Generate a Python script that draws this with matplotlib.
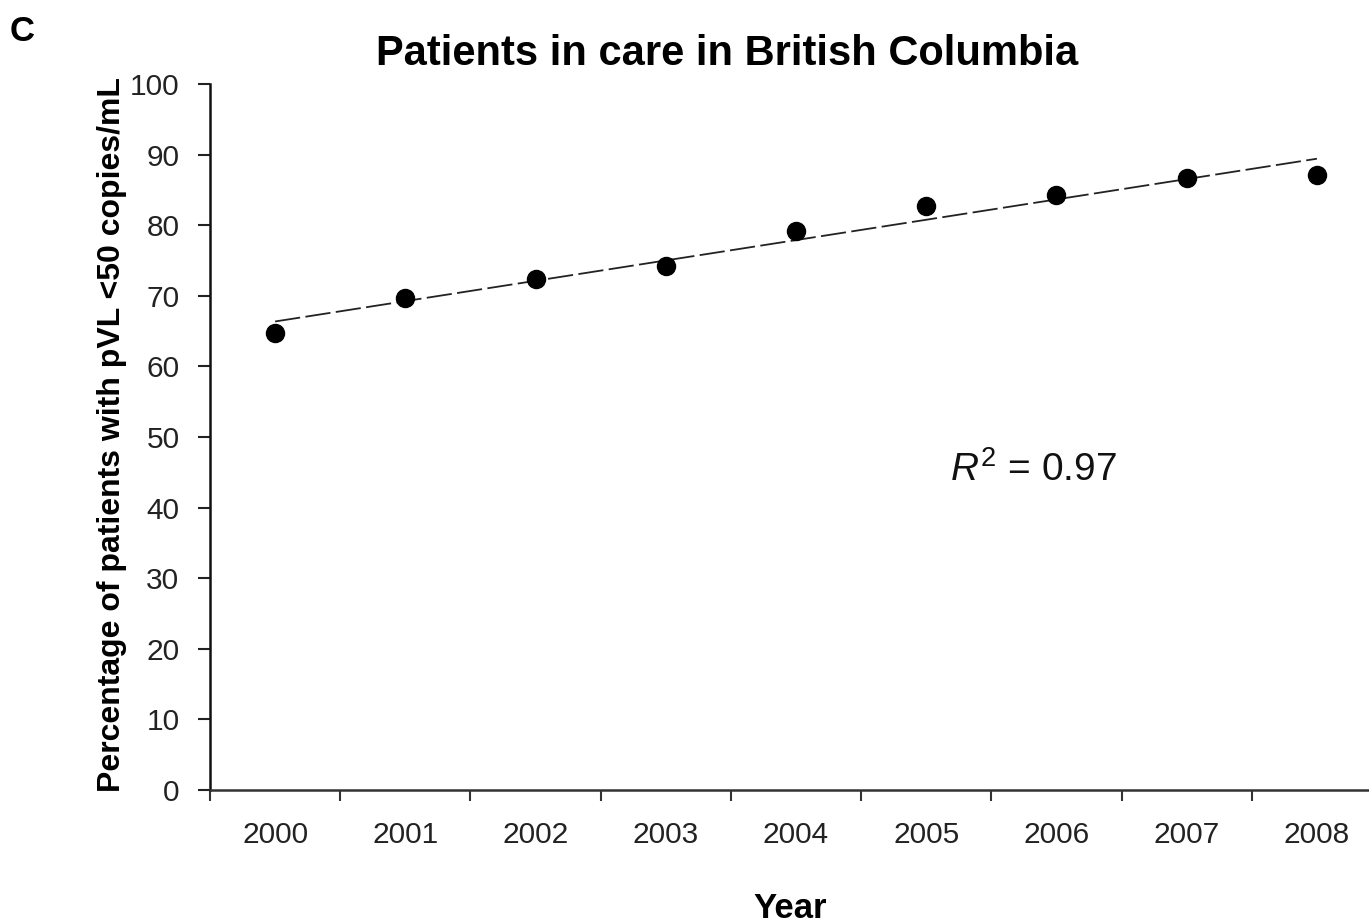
import matplotlib.pyplot as plt
import numpy as np

plt.rcParams['font.family'] = ['Liberation Sans', 'DejaVu Sans']
plt.rcParams['mathtext.fontset'] = 'custom'
plt.rcParams['mathtext.rm'] = 'Liberation Sans'
plt.rcParams['mathtext.it'] = 'Liberation Sans:italic'

years = ['2000', '2001', '2002', '2003', '2004', '2005', '2006', '2007', '2008']
pct_suppressed = [64.7, 69.7, 72.4, 74.2, 79.2, 82.7, 84.3, 86.7, 87.1]
r_squared = 0.97

x = np.arange(len(years))
y = np.array(pct_suppressed)

fig = plt.figure(figsize=(13.69, 9.23), dpi=100)
ax = fig.add_axes([0.1534, 0.1441, 0.8466, 0.7649])

# linear trend through the yearly values
slope, intercept = np.polyfit(x, y, 1)
ax.plot(x, slope * x + intercept, color='#222222', lw=1.3, dashes=(14, 3))
ax.plot(x, y, 'o', color='black', ms=13)

ax.set_xlim(-0.5, 8.4)
ax.set_ylim(0, 100)
ax.set_yticks(np.arange(0, 101, 10))
ax.set_xticks(x)
ax.set_xticklabels(years)
ax.set_xticks(np.arange(-0.5, 8.5, 1), minor=True)
ax.tick_params(axis='x', which='major', length=0, pad=22, labelsize=21.5, labelcolor='#222222')
ax.tick_params(axis='x', which='minor', length=8, width=1.5, direction='out', color='#333333')
ax.tick_params(axis='y', length=9, width=1.5, direction='out', pad=13, labelsize=21.5,
               labelcolor='#222222', color='#222222')

for s in ['top', 'right']:
    ax.spines[s].set_visible(False)
ax.spines['left'].set_linewidth(1.8)
ax.spines['bottom'].set_linewidth(1.8)
ax.spines['left'].set_color('#111111')
ax.spines['bottom'].set_color('#333333')

ax.text(5.18, 45.3, r'$R^2$ = %.2f' % r_squared, fontsize=28, ha='left', va='center',
        color='#111111')

fig.text(0.531, 0.942, 'Patients in care in British Columbia', fontsize=30, fontweight='bold',
         ha='center', va='center')
fig.text(0.082, 0.529, 'Percentage of patients with pVL <50 copies/mL', fontsize=23,
         fontweight='bold', rotation=90, ha='center', va='center')
fig.text(0.577, 0.016, 'Year', fontsize=25, fontweight='bold', ha='center', va='center')
fig.text(0.016, 0.966, 'C', fontsize=25, fontweight='bold', ha='center', va='center')

fig.savefig('out.png', dpi=100)
